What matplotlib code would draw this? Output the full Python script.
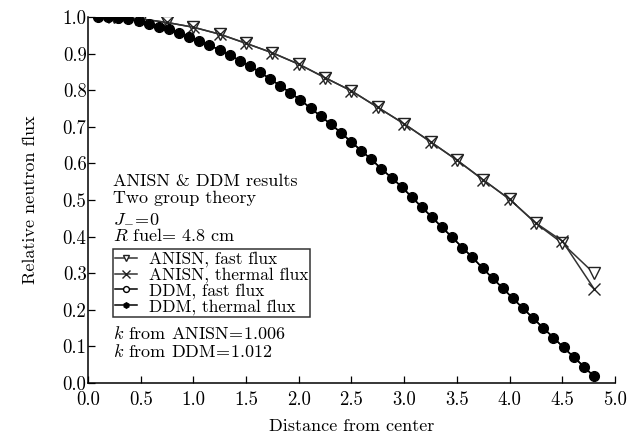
import numpy as np
import matplotlib
matplotlib.use("Agg")
import matplotlib.pyplot as plt

plt.rcParams['font.family'] = ['cmr10', 'DejaVu Serif']
plt.rcParams['mathtext.fontset'] = 'cm'
plt.rcParams['axes.formatter.use_mathtext'] = True
plt.rcParams['font.size'] = 13

# -----------------------------
# DATA
# -----------------------------
anisn_x = [0.25, 0.5, 0.75, 1.0, 1.25, 1.5, 1.75, 2.0, 2.25, 2.5, 2.75,
           3.0, 3.25, 3.5, 3.75, 4.0, 4.25, 4.5, 4.8]
anisn_fast = [0.999, 0.995, 0.985, 0.972, 0.953, 0.928, 0.902, 0.871, 0.834,
              0.798, 0.753, 0.708, 0.659, 0.609, 0.555, 0.502, 0.436, 0.382, 0.300]
anisn_thermal = [0.999, 0.995, 0.985, 0.972, 0.953, 0.928, 0.902, 0.871, 0.834,
                 0.798, 0.753, 0.708, 0.659, 0.609, 0.555, 0.502, 0.437, 0.388, 0.258]

ddm_x = [0.096, 0.192, 0.288, 0.384, 0.48, 0.576, 0.672, 0.768, 0.864, 0.96,
         1.056, 1.152, 1.248, 1.344, 1.44, 1.536, 1.632, 1.728, 1.824, 1.92,
         2.016, 2.112, 2.208, 2.304, 2.4, 2.496, 2.592, 2.688, 2.784, 2.88,
         2.976, 3.072, 3.168, 3.264, 3.36, 3.456, 3.552, 3.648, 3.744, 3.84,
         3.936, 4.032, 4.128, 4.224, 4.32, 4.416, 4.512, 4.608, 4.704, 4.8]
ddm_fast = [1.0, 1.0, 0.998, 0.994, 0.989, 0.982, 0.974, 0.966, 0.957, 0.946,
            0.935, 0.923, 0.910, 0.896, 0.881, 0.866, 0.849, 0.831, 0.812, 0.793,
            0.773, 0.751, 0.729, 0.707, 0.684, 0.659, 0.635, 0.611, 0.585, 0.561,
            0.536, 0.508, 0.480, 0.453, 0.425, 0.398, 0.370, 0.343, 0.314, 0.286,
            0.259, 0.231, 0.204, 0.177, 0.150, 0.124, 0.097, 0.071, 0.045, 0.018]
ddm_thermal = list(ddm_fast)

x_ticks = [0.0, 0.5, 1.0, 1.5, 2.0, 2.5, 3.0, 3.5, 4.0, 4.5, 5.0]
y_ticks = [0.0, 0.1, 0.2, 0.3, 0.4, 0.5, 0.6, 0.7, 0.8, 0.9, 1.0]

# -----------------------------
# PLOT
# -----------------------------
fig = plt.figure(figsize=(6.34, 4.38), dpi=100)
ax = fig.add_axes([0.1388, 0.1256, 0.8312, 0.8356])

ax.plot(ddm_x, ddm_fast, color='black', lw=1.1, marker='o', ms=7,
        mfc='white', mec='black', mew=1.0, label='DDM, fast flux', zorder=3)
ax.plot(ddm_x, ddm_thermal, color='black', lw=1.1, marker='h', ms=6.5,
        mfc='black', mec='black', label='DDM, thermal flux', zorder=4)
ax.plot(anisn_x, anisn_fast, color='#333333', lw=1.1, marker='v', ms=8,
        mfc='white', mec='#222222', mew=1.0, label='ANISN, fast flux', zorder=2)
ax.plot(anisn_x, anisn_thermal, color='#333333', lw=1.1, marker='x', ms=9,
        mec='#222222', mew=1.0, label='ANISN, thermal flux', zorder=2)

ax.set_xlim(0, 5.0)
ax.set_ylim(0, 1.0)
ax.set_xticks(x_ticks)
ax.set_yticks(y_ticks)
ax.set_xticklabels([f"{v:.1f}" for v in x_ticks])
ax.set_yticklabels([f"{v:.1f}" for v in y_ticks])
ax.tick_params(direction='in', length=5, width=0.9, labelsize=13.5)
ax.tick_params(axis='x', pad=6)
ax.tick_params(axis='y', pad=1)
for side in ['top', 'right']:
    ax.spines[side].set_visible(False)
ax.spines['left'].set_linewidth(1.1)
ax.spines['bottom'].set_linewidth(1.1)

ax.set_xlabel("Distance from center", fontsize=13, labelpad=7)
ax.set_ylabel("Relative neutron flux", fontsize=13, labelpad=18)

# annotation block
tx = 0.047
ax.text(tx, 0.538, "ANISN & DDM results", transform=ax.transAxes, va='baseline')
ax.text(tx, 0.492, "Two group theory", transform=ax.transAxes, va='baseline')
ax.text(tx, 0.441, r"$J_{-}\!=\!0$", transform=ax.transAxes, va='baseline')
ax.text(tx, 0.389, r"$R$ fuel$\!=\,$4.8 cm", transform=ax.transAxes, va='baseline')
ax.text(tx, 0.120, r"$k$ from ANISN$\!=\!$1.006", transform=ax.transAxes, va='baseline')
ax.text(tx, 0.071, r"$k$ from DDM$\!=\!$1.012", transform=ax.transAxes, va='baseline')

handles, labels = ax.get_legend_handles_labels()
order = [2, 3, 0, 1]
leg = ax.legend([handles[i] for i in order], [labels[i] for i in order],
                loc='upper left', bbox_to_anchor=(0.047, 0.365),
                frameon=True, fancybox=False, edgecolor='black',
                handlelength=1.25, handletextpad=0.7, borderpad=0.12,
                labelspacing=0.0, borderaxespad=0.0, markerscale=0.6,
                fontsize=12.5)
leg.get_frame().set_linewidth(1.1)

fig.savefig("out.png", dpi=100)
